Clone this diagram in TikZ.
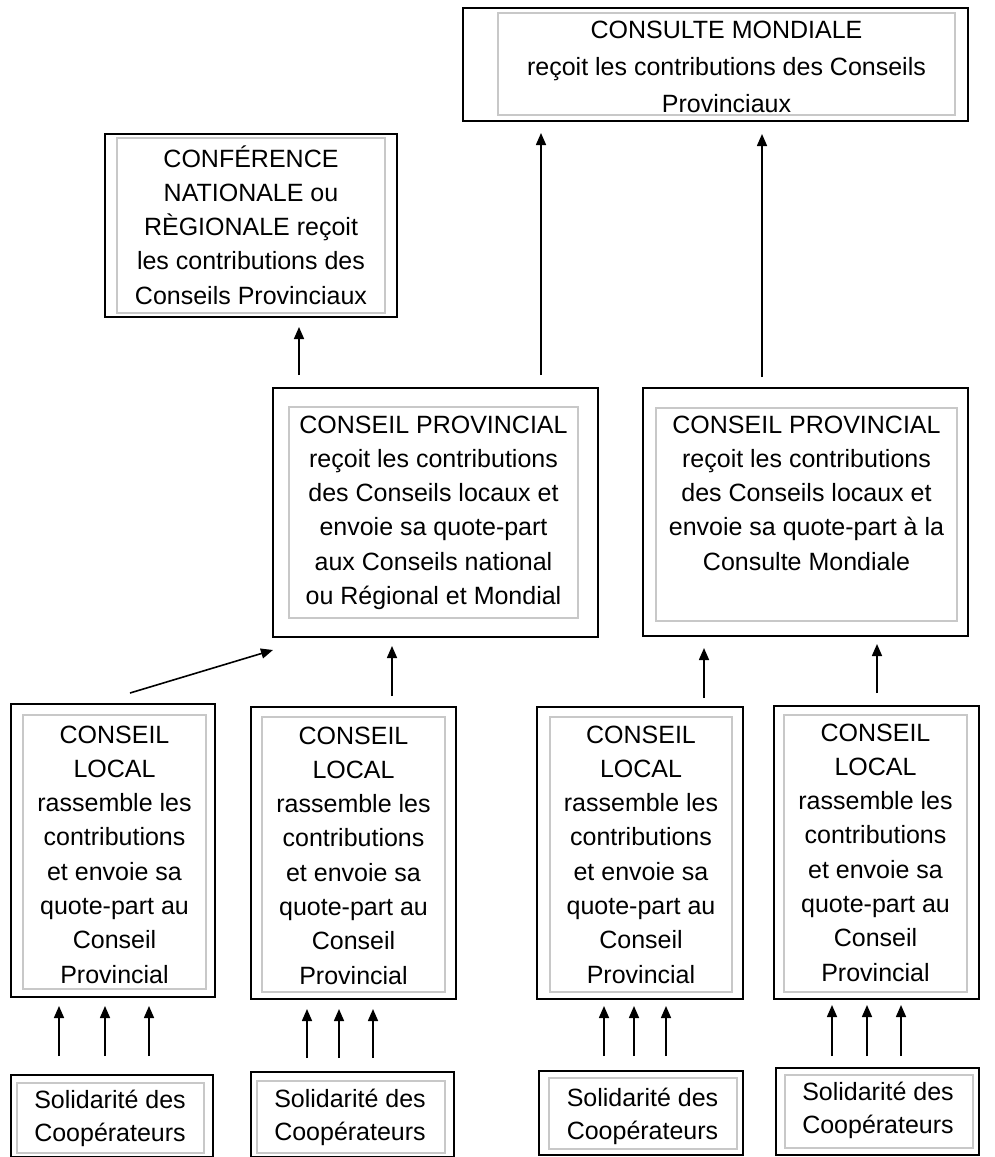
\documentclass[tikz,border=0pt]{standalone}
\usepackage{fontspec}
\setmainfont{Liberation Sans}
\usetikzlibrary{arrows.meta}
\definecolor{innergray}{RGB}{200,200,200}
\tikzset{
  obox/.style={draw=black, line width=2pt, inner sep=0pt, outer sep=0pt},
  ibox/.style={draw=innergray, line width=1.5pt, inner sep=0pt, outer sep=0pt},
  txt/.style={align=center, inner sep=0pt, outer sep=0pt, anchor=north, font=\fontsize{25}{34.3}\selectfont},
  stxt/.style={txt, font=\fontsize{25}{33.5}\selectfont},
  arr/.style={line width=1.6pt, -{Triangle[width=10pt,length=12pt]}}
}
\newcommand{\fst}{\rule{0pt}{24pt}}
\begin{document}
\begin{tikzpicture}[x=1pt,y=-1pt]
\fill[white] (0,0) rectangle (995,1157);
\useasboundingbox (0,0) rectangle (995,1157);

% ---------- top: Consulte mondiale
\node[obox, minimum width=505pt, minimum height=113pt] (CM) at (715.5,64.5) {};
\node[ibox, minimum width=457pt, minimum height=102pt] (CMi) at (726.5,64) {};
\node[txt, font=\fontsize{25}{37}\selectfont] (CMt) at (726.5,14) {\fst CONSULTE MONDIALE\\re\c{c}oit les contributions des Conseils\\Provinciaux};

% ---------- Conference nationale
\node[obox, minimum width=292pt, minimum height=183pt] (CF) at (251,225.5) {};
\node[ibox, minimum width=268pt, minimum height=175pt] (CFi) at (251,225.5) {};
\node[txt] (CFt) at (251,143) {\fst CONFÉRENCE\\NATIONALE ou\\RÈGIONALE reçoit\\les contributions des\\Conseils Provinciaux};

% ---------- Provincial councils
\node[obox, minimum width=325pt, minimum height=249pt] (PL) at (435.5,512.5) {};
\node[ibox, minimum width=289pt, minimum height=211pt] (PLi) at (433.5,512.5) {};
\node[txt] (PLt) at (433.5,409) {\fst CONSEIL PROVINCIAL\\reçoit les contributions\\des Conseils locaux et\\envoie sa quote-part\\aux Conseils national\\ou Régional et Mondial};

\node[obox, minimum width=325pt, minimum height=248pt] (PR) at (805.5,512) {};
\node[ibox, minimum width=301pt, minimum height=213pt] (PRi) at (806.5,514.5) {};
\node[txt] (PRt) at (806.5,409) {\fst CONSEIL PROVINCIAL\\reçoit les contributions\\des Conseils locaux et\\envoie sa quote-part à la\\Consulte Mondiale};

% ---------- Local councils
\node[obox, minimum width=204pt, minimum height=293pt] (L1) at (113,850.5) {};
\node[ibox, minimum width=183pt, minimum height=274pt] (L1i) at (114.5,852) {};
\node[txt] (L1t) at (114.5,719) {\fst CONSEIL\\LOCAL\\rassemble les\\contributions\\et envoie sa\\quote-part au\\Conseil\\Provincial};

\node[obox, minimum width=205pt, minimum height=292pt] (L2) at (353.5,853) {};
\node[ibox, minimum width=183pt, minimum height=275pt] (L2i) at (353.5,854.5) {};
\node[txt] (L2t) at (353.5,720) {\fst CONSEIL\\LOCAL\\rassemble les\\contributions\\et envoie sa\\quote-part au\\Conseil\\Provincial};

\node[obox, minimum width=206pt, minimum height=292pt] (L3) at (640,853) {};
\node[ibox, minimum width=182pt, minimum height=275pt] (L3i) at (641,854.5) {};
\node[txt] (L3t) at (641,719) {\fst CONSEIL\\LOCAL\\rassemble les\\contributions\\et envoie sa\\quote-part au\\Conseil\\Provincial};

\node[obox, minimum width=205pt, minimum height=293pt] (L4) at (876.5,852.5) {};
\node[ibox, minimum width=183pt, minimum height=277pt] (L4i) at (875.5,853.5) {};
\node[txt] (L4t) at (875.5,717) {\fst CONSEIL\\LOCAL\\rassemble les\\contributions\\et envoie sa\\quote-part au\\Conseil\\Provincial};

% ---------- Solidarite boxes
\node[obox, minimum width=202pt, minimum height=82pt] (S1) at (112,1116) {};
\node[ibox, minimum width=187pt, minimum height=70pt] (S1i) at (110.5,1118) {};
\node[stxt] (S1t) at (110,1084) {\fst Solidarité des\\Coopérateurs};

\node[obox, minimum width=203pt, minimum height=85pt] (S2) at (352.5,1114.5) {};
\node[ibox, minimum width=188pt, minimum height=72pt] (S2i) at (351,1117) {};
\node[stxt] (S2t) at (350,1083) {\fst Solidarité des\\Coopérateurs};

\node[obox, minimum width=204pt, minimum height=84pt] (S3) at (641,1113) {};
\node[ibox, minimum width=188pt, minimum height=71pt] (S3i) at (643,1113.5) {};
\node[stxt] (S3t) at (642.5,1082) {\fst Solidarité des\\Coopérateurs};

\node[obox, minimum width=203pt, minimum height=87pt] (S4) at (877.5,1111.5) {};
\node[ibox, minimum width=188pt, minimum height=73pt] (S4i) at (879,1111.5) {};
\node[stxt] (S4t) at (878,1076) {\fst Solidarité des\\Coopérateurs};

% ---------- arrows: provincial -> top
\coordinate (a1) at ([xshift=-136.5pt,yshift=13pt]PL.north);
\draw[arr] (a1) -- ([yshift=-10pt]CF.south -| a1);
\coordinate (a2) at ([xshift=105.5pt,yshift=13pt]PL.north);
\draw[arr] (a2) -- ([yshift=-12pt]CM.south -| a2);
\coordinate (a3) at ([xshift=-43.5pt,yshift=11pt]PR.north);
\draw[arr] (a3) -- ([yshift=-13pt]CM.south -| a3);

% ---------- arrows: local -> provincial
\draw[arr] ([xshift=17pt,yshift=11pt]L1.north) -- ([yshift=-13pt]PL.south west);
\coordinate (b2) at ([xshift=38.5pt,yshift=11pt]L2.north);
\draw[arr] (b2) -- ([yshift=-9pt]PL.south -| b2);
\coordinate (b3) at ([xshift=64pt,yshift=9pt]L3.north);
\draw[arr] (b3) -- ([yshift=-12pt]PR.south -| b3);
\coordinate (b4) at ([xshift=0.5pt,yshift=13pt]L4.north);
\draw[arr] (b4) -- ([yshift=-8pt]PR.south -| b4);

% ---------- arrows: solidarite -> local
\foreach \dx in {-53,-7,37}{
  \coordinate (c) at ([xshift=\dx pt,yshift=19pt]S1.north);
  \draw[arr] (c) -- ([yshift=-9pt]L1.south -| c);
}
\foreach \dx in {-45.5,-13.5,20.5}{
  \coordinate (c) at ([xshift=\dx pt,yshift=14pt]S2.north);
  \draw[arr] (c) -- ([yshift=-10pt]L2.south -| c);
}
\foreach \dx in {-37,-7,25}{
  \coordinate (c) at ([xshift=\dx pt,yshift=15pt]S3.north);
  \draw[arr] (c) -- ([yshift=-7pt]L3.south -| c);
}
\foreach \dx in {-45.5,-10.5,23.5}{
  \coordinate (c) at ([xshift=\dx pt,yshift=12pt]S4.north);
  \draw[arr] (c) -- ([yshift=-6pt]L4.south -| c);
}
\end{tikzpicture}
\end{document}
